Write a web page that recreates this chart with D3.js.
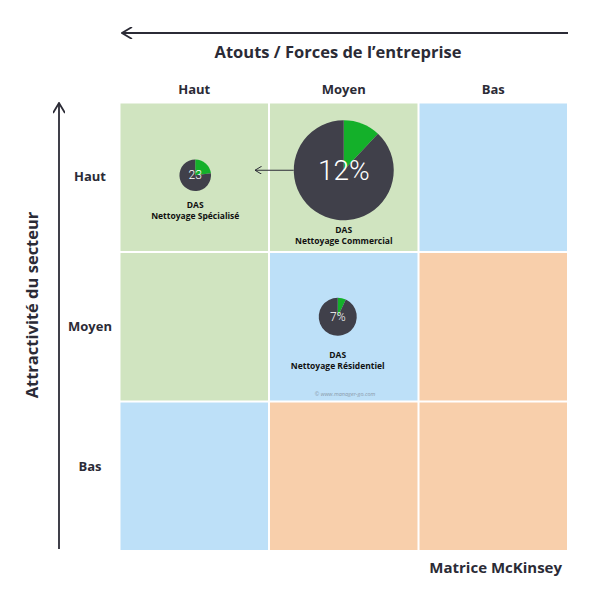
<!DOCTYPE html>
<html><head><meta charset="utf-8">
<script src="https://cdn.jsdelivr.net/npm/d3@7"></script>
<style>body{margin:0;background:#fff}svg{display:block;font-family:"Open Sans",sans-serif}</style>
</head><body><svg id="c" width="600" height="600"></svg>
<script>
// ---- data ----
const colLevels = ["Haut", "Moyen", "Bas"];           // Atouts / Forces (left = Haut)
const rowLevels = ["Haut", "Moyen", "Bas"];           // Attractivité (top = Haut)
const cellZone = [                                     // row-major zone per cell
  "g", "g", "b",
  "g", "b", "o",
  "b", "o", "o"
];
const dasNames = ["Nettoyage Spécialisé", "Nettoyage Commercial", "Nettoyage Résidentiel"];
const dasCol = ["Haut", "Moyen", "Moyen"];
const dasRow = ["Haut", "Haut", "Moyen"];
const dasShare = [23, 12, 7];                         // part de marché (%)
const dasShareLabel = ["23", "12%", "7%"];
const dasMarket = [10, 100, 14.5];                    // taille du marché (relative)

// ---- layout ----
const svg = d3.select("#c");
const x = d3.scaleBand().domain(colLevels).range([120.5, 567]).paddingInner(0.0135);
const y = d3.scaleBand().domain(rowLevels).range([103.5, 550]).paddingInner(0.0135);
const r = d3.scaleSqrt().domain([0, 100]).range([0, 50]);
const zoneColor = {g: "#d0e4c0", b: "#bde0f8", o: "#f8cfab"};
const dark = "#2b2b36";

// cells
const cells = [];
rowLevels.forEach((rv, i) => colLevels.forEach((cv, j) => cells.push({r: rv, c: cv, z: cellZone[i * 3 + j]})));
svg.append("g").selectAll("rect").data(cells).join("rect")
  .attr("x", d => x(d.c)).attr("y", d => y(d.r))
  .attr("width", x.bandwidth()).attr("height", y.bandwidth())
  .attr("fill", d => zoneColor[d.z]);

// column headers
svg.append("g").selectAll("text").data(colLevels).join("text")
  .attr("x", d => x(d) + x.bandwidth() / 2).attr("y", 94)
  .attr("text-anchor", "middle").attr("font-size", 13).attr("font-weight", 700).attr("fill", dark)
  .text(d => d);
// row labels
const rowLabelDy = [4, 4, -5];
svg.append("g").selectAll("text").data(rowLevels).join("text")
  .attr("x", 90).attr("y", (d, i) => y(d) + y.bandwidth() / 2 + rowLabelDy[i])
  .attr("text-anchor", "middle").attr("font-size", 13).attr("font-weight", 700).attr("fill", dark)
  .text(d => d);

// axis arrows
const defs = svg.append("defs");
defs.append("marker").attr("id", "ah").attr("viewBox", "0 0 12 12").attr("refX", 11).attr("refY", 6)
  .attr("markerWidth", 12).attr("markerHeight", 12).attr("markerUnits", "userSpaceOnUse").attr("orient", "auto-start-reverse")
  .append("path").attr("d", "M1,0 L11,6 L1,12").attr("fill", "none").attr("stroke", dark).attr("stroke-width", 1.8);
defs.append("marker").attr("id", "ahs").attr("viewBox", "0 0 12 12").attr("refX", 11).attr("refY", 6)
  .attr("markerWidth", 8).attr("markerHeight", 8).attr("markerUnits", "userSpaceOnUse").attr("orient", "auto-start-reverse")
  .append("path").attr("d", "M1,0 L11,6 L1,12").attr("fill", "none").attr("stroke", dark).attr("stroke-width", 1.5);

svg.append("line").attr("x1", 122).attr("y1", 33).attr("x2", 568).attr("y2", 33)
  .attr("stroke", dark).attr("stroke-width", 1.8).attr("marker-start", "url(#ah)");
svg.append("line").attr("x1", 59).attr("y1", 103).attr("x2", 59).attr("y2", 549)
  .attr("stroke", dark).attr("stroke-width", 1.8).attr("marker-start", "url(#ah)");

svg.append("text").attr("x", 338).attr("y", 58).attr("text-anchor", "middle")
  .attr("font-size", 16.5).attr("font-weight", 700).attr("fill", dark).text("Atouts / Forces de l’entreprise");
svg.append("text").attr("transform", "translate(38,305) rotate(-90)").attr("text-anchor", "middle")
  .attr("font-size", 16.5).attr("font-weight", 700).attr("fill", dark).text("Attractivité du secteur");
svg.append("text").attr("x", 562).attr("y", 573).attr("text-anchor", "end")
  .attr("font-size", 15).attr("font-weight", 700).attr("fill", dark).text("Matrice McKinsey");

// pies
const pieOffset = [[1, -2], [0, -7], [-6, -10]];
const labelOffset = [33, 63, 41];
const pie = d3.pie().sort(null).value(d => d);
const das = dasNames.map((n, i) => ({
  n, share: dasShare[i], lab: dasShareLabel[i], rad: r(dasMarket[i]),
  cx: x(dasCol[i]) + x.bandwidth() / 2 + pieOffset[i][0],
  cy: y(dasRow[i]) + y.bandwidth() / 2 + pieOffset[i][1], lo: labelOffset[i]
}));
// arrow from big pie
svg.append("line").attr("x1", das[1].cx - das[1].rad).attr("y1", das[1].cy)
  .attr("x2", 255).attr("y2", das[1].cy).attr("stroke", dark).attr("stroke-width", 1.2).attr("marker-end", "url(#ahs)");

const g = svg.append("g").selectAll("g").data(das).join("g")
  .attr("transform", d => `translate(${d.cx},${d.cy})`);
g.selectAll("path").data(d => pie([d.share, 100 - d.share]).map(p => Object.assign(p, {rad: d.rad})))
  .join("path")
  .attr("d", p => d3.arc().innerRadius(0).outerRadius(p.rad)(p))
  .attr("fill", (p, i) => i === 0 ? "#14b02a" : "#40404a");
g.append("text").attr("text-anchor", "middle").attr("dy", "0.35em")
  .attr("font-family", "Roboto, sans-serif").attr("font-weight", 300)
  .attr("font-size", d => Math.max(12, d.rad * 0.56)).attr("fill", "#fff").text(d => d.lab);
g.append("text").attr("text-anchor", "middle").attr("y", d => d.lo).attr("font-size", 8.5)
  .attr("font-weight", 700).attr("fill", "#111").text("DAS");
g.append("text").attr("text-anchor", "middle").attr("y", d => d.lo + 11).attr("font-size", 8.5)
  .attr("font-weight", 700).attr("fill", "#111").text(d => d.n);

svg.append("text").attr("x", 345).attr("y", 396).attr("text-anchor", "middle").attr("font-size", 5.5)
  .attr("font-style", "italic").attr("fill", "#8a9aaa").text("© www.manager-go.com");
</script></body></html>
